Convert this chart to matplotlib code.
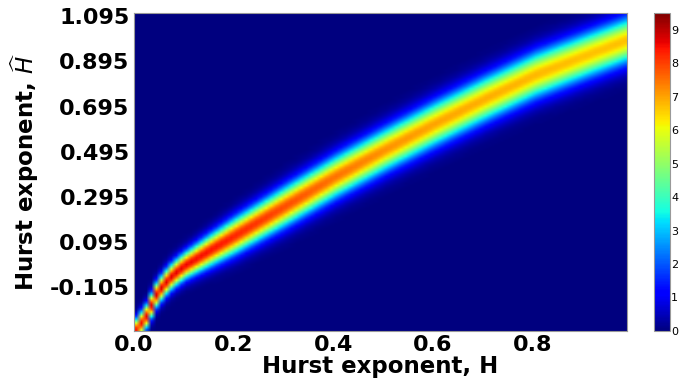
import numpy as np
import matplotlib
matplotlib.use('Agg')
import matplotlib.pyplot as plt

# true Hurst exponent where the band was read
h_true = [0.00, 0.02, 0.04, 0.055, 0.07, 0.085, 0.10, 0.15, 0.20, 0.25, 0.30, 0.40, 0.50, 0.60, 0.70, 0.80, 0.90, 0.99]
# centre of the estimate distribution
h_est = [-0.30, -0.24, -0.145, -0.10, -0.065, -0.036, -0.012, 0.055, 0.12, 0.185, 0.25, 0.38, 0.50, 0.615, 0.725, 0.83, 0.915, 0.99]
# spread of the estimate distribution
h_spread = [0.034, 0.035, 0.036, 0.037, 0.038, 0.039, 0.040, 0.047, 0.053, 0.056, 0.059, 0.062, 0.064, 0.066, 0.067, 0.068, 0.068, 0.068]
# peak density
h_peak = [8.4, 8.6, 8.7, 8.7, 8.7, 8.7, 8.6, 8.5, 8.3, 8.1, 7.9, 7.5, 7.2, 7.0, 6.9, 6.8, 6.7, 6.7]

cbar_ticks = [0, 1, 2, 3, 4, 5, 6, 7, 8, 9]
y_ticks = [-0.105, 0.095, 0.295, 0.495, 0.695, 0.895, 1.095]
x_ticks = [0.0, 0.2, 0.4, 0.6, 0.8]

# density grid
H = np.arange(0.0, 0.99, 0.01)
Y = np.arange(-0.30, 1.11, 0.01)
c = np.interp(H, h_true, h_est)
s = np.interp(H, h_true, h_spread)
p = np.interp(H, h_true, h_peak)
Z = p[None, :] * np.exp(-0.5 * ((Y[:, None] - c[None, :]) / s[None, :]) ** 2)

fig = plt.figure(figsize=(6.79, 3.83), dpi=100)
ax = fig.add_axes([0.197, 0.136, 0.727, 0.830])
cax = fig.add_axes([0.963, 0.136, 0.0236, 0.830])

im = ax.imshow(Z, origin='lower', aspect='auto', cmap='jet', vmin=0, vmax=9.5,
               extent=[0.0, 0.99, -0.30, 1.11], interpolation='bilinear')

ax.set_xticks(x_ticks)
ax.set_xticklabels(['%.1f' % t for t in x_ticks])
ax.set_yticks(y_ticks)
ax.set_yticklabels(['%.3f' % t for t in y_ticks])
ax.tick_params(axis='both', length=0, labelsize=16, pad=3)
for lab in ax.get_xticklabels() + ax.get_yticklabels():
    lab.set_fontweight('bold')
ax.set_xlabel('Hurst exponent, H', fontsize=16.5, fontweight='bold', labelpad=0)
ax.set_ylabel('Hurst exponent, $\\widehat{H}$', fontsize=16.5, fontweight='bold', labelpad=6)
for sp in ax.spines.values():
    sp.set_color('#999999')

cb = fig.colorbar(im, cax=cax, ticks=cbar_ticks)
cb.outline.set_edgecolor('#999999')
cb.ax.tick_params(length=0, labelsize=8, pad=1)

fig.savefig('out.png', dpi=100)
